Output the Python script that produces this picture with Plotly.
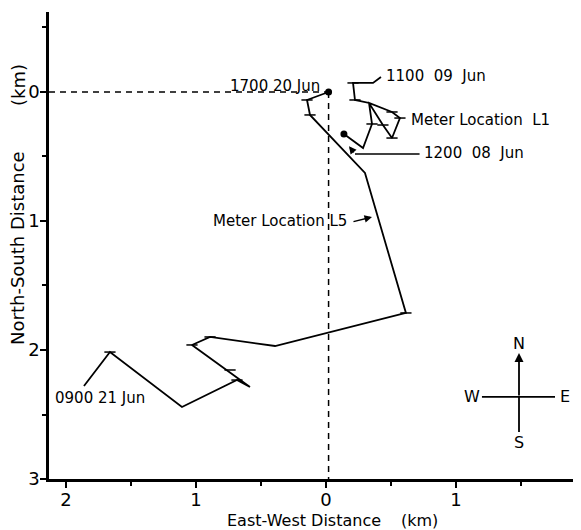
import plotly.graph_objects as go

# ---- data (km; x: east positive, y: south positive) ----
l5_x = [0.02, -0.146, -0.123, 0.30, 0.615, -0.392, -0.892, -1.031, -0.585, -0.685, -1.108, -1.662, -1.862]
l5_y = [0.0, 0.062, 0.178, 0.628, 1.713, 1.969, 1.899, 1.961, 2.287, 2.233, 2.442, 2.016, 2.279]
l5_tick_x = [-0.146, -0.123, 0.615, -0.892, -1.031, -0.738, -0.685, -1.662]
l5_tick_y = [0.062, 0.178, 1.713, 1.899, 1.961, 2.155, 2.233, 2.016]

l1_x = [0.138, 0.285, 0.354, 0.331, 0.508, 0.569, 0.508, 0.438, 0.331, 0.223, 0.208, 0.362, 0.423]
l1_y = [0.326, 0.434, 0.248, 0.085, 0.155, 0.202, 0.357, 0.256, 0.085, 0.062, -0.070, -0.070, -0.116]
l1_tick_x = [0.223, 0.208, 0.354, 0.508, 0.569, 0.508, 0.438]
l1_tick_y = [0.062, -0.070, 0.248, 0.155, 0.202, 0.357, 0.256]

start_x = [0.02, 0.138]
start_y = [0.0, 0.326]

ref_x = 0.02
ref_y = 0.0

x_range = [-2.131, 1.962]
y_range = [3.0, -0.62]
x_tickvals = [-2, -1, 0, 1]
x_ticktext = ["2", "1", "0", "1"]
x_minor = [-1.5, -0.5, 0.5, 1.5]
y_tickvals = [0, 1, 2, 3]
y_ticktext = ["0", "1", "2", "3"]
y_minor = [-0.5, 0.5, 1.5, 2.5]

# compass
comp_cx, comp_cy = 1.485, 2.364
comp_n, comp_s = 2.023, 2.636
comp_w, comp_e = 1.20, 1.762

FONT = "DejaVu Sans"
BLACK = "black"

fig = go.Figure()

# reference dashed lines
fig.add_trace(go.Scatter(x=[x_range[0], ref_x], y=[ref_y, ref_y], mode="lines",
                         line=dict(color=BLACK, width=1.5, dash="6px,5px"), hoverinfo="skip"))
fig.add_trace(go.Scatter(x=[ref_x, ref_x], y=[ref_y, y_range[0]], mode="lines",
                         line=dict(color=BLACK, width=1.5, dash="6px,5px"), hoverinfo="skip"))

# trajectories
for xs, ys in [(l5_x, l5_y), (l1_x, l1_y)]:
    fig.add_trace(go.Scatter(x=xs, y=ys, mode="lines",
                             line=dict(color=BLACK, width=1.8), hoverinfo="skip"))
for xs, ys in [(l5_tick_x, l5_tick_y), (l1_tick_x, l1_tick_y)]:
    fig.add_trace(go.Scatter(x=xs, y=ys, mode="markers",
                             marker=dict(symbol="line-ew", size=8, line=dict(color=BLACK, width=1.5)),
                             hoverinfo="skip"))
fig.add_trace(go.Scatter(x=start_x, y=start_y, mode="markers",
                         marker=dict(symbol="circle", size=7, color=BLACK), hoverinfo="skip"))

# leader for 1200 08 Jun (horizontal part)
fig.add_trace(go.Scatter(x=[0.223, 0.72], y=[0.48, 0.48], mode="lines",
                         line=dict(color=BLACK, width=1.5), hoverinfo="skip"))

# compass lines
fig.add_trace(go.Scatter(x=[comp_w, comp_e], y=[comp_cy, comp_cy], mode="lines",
                         line=dict(color=BLACK, width=1.8), hoverinfo="skip"))
fig.add_trace(go.Scatter(x=[comp_cx, comp_cx], y=[comp_cy, comp_s], mode="lines",
                         line=dict(color=BLACK, width=1.8), hoverinfo="skip"))

txt = dict(family=FONT, size=15, color=BLACK)
nb = "\u00a0"
annotations = [
    dict(x=-0.03, y=-0.05, text=f"1700{nb}20{nb}Jun", xanchor="right", yanchor="middle"),
    dict(x=0.45, y=-0.124, text=f"1100{nb}{nb}09{nb}{nb}Jun", xanchor="left", yanchor="middle"),
    dict(x=0.64, y=0.217, text=f"Meter{nb}Location{nb}{nb}L1", xanchor="left", yanchor="middle"),
    dict(x=0.74, y=0.473, text=f"1200{nb}{nb}08{nb}{nb}Jun", xanchor="left", yanchor="middle"),
    dict(x=0.177, y=1.0, text=f"Meter{nb}Location{nb}L5", xanchor="right", yanchor="middle"),
    dict(x=-1.74, y=2.37, text=f"0900{nb}21{nb}Jun", xanchor="center", yanchor="middle"),
]
for a in annotations:
    fig.add_annotation(xref="x", yref="y", showarrow=False, font=txt, **a)

# arrows
fig.add_annotation(xref="x", yref="y", axref="x", ayref="y", x=0.177, y=0.42, ax=0.223, ay=0.48,
                   text="", showarrow=True, arrowhead=2, arrowsize=1, arrowwidth=1.5, arrowcolor=BLACK)
fig.add_annotation(xref="x", yref="y", axref="x", ayref="y", x=0.354, y=0.969, ax=0.2, ay=1.008,
                   text="", showarrow=True, arrowhead=2, arrowsize=1, arrowwidth=1.5, arrowcolor=BLACK)
fig.add_annotation(xref="x", yref="y", axref="x", ayref="y", x=comp_cx, y=comp_n, ax=comp_cx, ay=comp_cy,
                   text="", showarrow=True, arrowhead=2, arrowsize=1, arrowwidth=1.8, arrowcolor=BLACK)

cf = dict(family=FONT, size=16, color=BLACK)
fig.add_annotation(xref="x", yref="y", x=comp_cx, y=1.946, text="N", showarrow=False, font=cf)
fig.add_annotation(xref="x", yref="y", x=1.123, y=comp_cy, text="W", showarrow=False, font=cf)
fig.add_annotation(xref="x", yref="y", x=1.838, y=comp_cy, text="E", showarrow=False, font=cf)
fig.add_annotation(xref="x", yref="y", x=comp_cx, y=2.72, text="S", showarrow=False, font=cf)

# axis titles
tf_x = dict(family=FONT, size=16, color=BLACK)
tf_y = dict(family=FONT, size=18, color=BLACK)
fig.add_annotation(xref="x", yref="paper", x=-0.17, y=-0.088, text="East-West Distance",
                   xanchor="center", yanchor="middle", showarrow=False, font=tf_x)
fig.add_annotation(xref="x", yref="paper", x=0.723, y=-0.088, text="(km)",
                   xanchor="center", yanchor="middle", showarrow=False, font=tf_x)
fig.add_annotation(xref="paper", yref="y", x=-0.0583, y=1.209, text="North-South Distance",
                   xanchor="center", yanchor="middle", textangle=-90, showarrow=False, font=tf_y)
fig.add_annotation(xref="paper", yref="y", x=-0.0583, y=-0.054, text="(km)",
                   xanchor="center", yanchor="middle", textangle=-90, showarrow=False, font=tf_y)

# page body has an 8px margin: shrink the figure so the plot area lands where the reference has it
fig.update_layout(
    width=573, height=522, autosize=False,
    margin=dict(l=41, r=0, t=4, b=51),
    paper_bgcolor="white", plot_bgcolor="white",
    showlegend=False,
    xaxis=dict(range=x_range, showgrid=False, zeroline=False, showline=True, linecolor=BLACK,
               linewidth=2.5, ticks="outside", ticklen=6, tickwidth=2, tickcolor=BLACK,
               tickvals=x_tickvals, ticktext=x_ticktext, ticklabelstandoff=-3,
               tickfont=dict(family=FONT, size=18, color=BLACK),
               minor=dict(tickvals=x_minor, ticks="outside", ticklen=4, tickwidth=2, tickcolor=BLACK)),
    yaxis=dict(range=y_range, showgrid=False, zeroline=False, showline=True, linecolor=BLACK,
               linewidth=2.5, ticks="outside", ticklen=6, tickwidth=2, tickcolor=BLACK,
               tickvals=y_tickvals, ticktext=y_ticktext, ticklabelstandoff=-3,
               tickfont=dict(family=FONT, size=18, color=BLACK),
               minor=dict(tickvals=y_minor, ticks="outside", ticklen=4, tickwidth=2, tickcolor=BLACK)),
)

fig.write_html("out.html")
